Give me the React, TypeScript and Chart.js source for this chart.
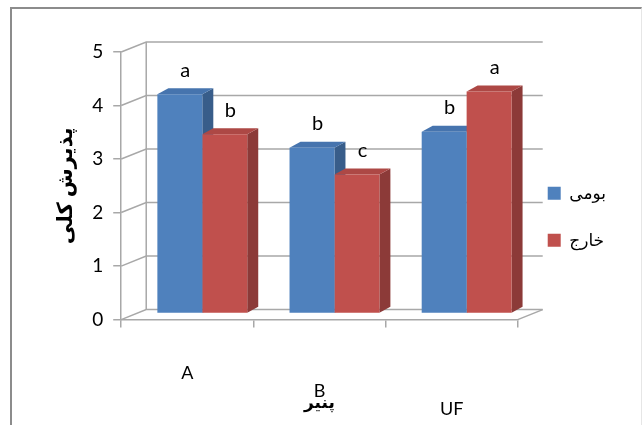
import React, { useEffect, useRef } from "react";
import { Chart, registerables } from "chart.js";

Chart.register(...registerables);

const categories = ["A", "B", "UF"];
const seriesNames = ["بومی", "خارج"];
const bumiValues = [4.1, 3.1, 3.4];
const kharejValues = [3.35, 2.6, 4.15];
const bumiLetters = ["a", "b", "b"];
const kharejLetters = ["b", "c", "a"];
const yTickValues = [0, 1, 2, 3, 4, 5];
const yTitle = "پذیرش کلی";
const xTitle = "پنیر";

const frontColors = ["#4F81BD", "#C0504D"];
const sideColors = ["#385D8A", "#8C3A38"];
const topColors = ["#4674AE", "#AD4845"];
const letters = [bumiLetters, kharejLetters];
const gridColor = "#A8A8A8";
const FONT = "Lato, 'DejaVu Sans', sans-serif";
const WDX = 25;
const WDY = -10;
const BDX = 11;
const BDY = -6;
const OX = 15;
const OY = -6;

const threeD = {
  id: "threeD",
  beforeDatasetsDraw(chart: any) {
    const { ctx, chartArea } = chart;
    const { left, right, top, bottom } = chartArea;
    const y = chart.scales.y;
    ctx.save();
    ctx.strokeStyle = gridColor;
    ctx.lineWidth = 1.5;
    y.ticks.forEach((t: any) => {
      const py = y.getPixelForValue(t.value);
      ctx.beginPath();
      ctx.moveTo(left, py);
      ctx.lineTo(left + WDX, py + WDY);
      ctx.lineTo(right + WDX, py + WDY);
      ctx.stroke();
    });
    ctx.beginPath();
    ctx.moveTo(left + WDX, bottom + WDY);
    ctx.lineTo(left + WDX, top + WDY);
    ctx.stroke();
    ctx.beginPath();
    ctx.moveTo(right, bottom);
    ctx.lineTo(right + WDX, bottom + WDY);
    ctx.stroke();
    ctx.restore();

    ctx.save();
    ctx.translate(OX, OY);
    chart.data.datasets.forEach((_ds: any, di: number) => {
      const meta = chart.getDatasetMeta(di);
      meta.data.forEach((bar: any) => {
        const p = bar.getProps(["x", "y", "base", "width"], true);
        const l = p.x - p.width / 2;
        const r = p.x + p.width / 2;
        ctx.fillStyle = sideColors[di];
        ctx.beginPath();
        ctx.moveTo(r, p.y);
        ctx.lineTo(r + BDX, p.y + BDY);
        ctx.lineTo(r + BDX, p.base + BDY);
        ctx.lineTo(r, p.base);
        ctx.closePath();
        ctx.fill();
        ctx.fillStyle = topColors[di];
        ctx.beginPath();
        ctx.moveTo(l, p.y);
        ctx.lineTo(l + BDX, p.y + BDY);
        ctx.lineTo(r + BDX, p.y + BDY);
        ctx.lineTo(r, p.y);
        ctx.closePath();
        ctx.fill();
      });
    });
  },
  afterDatasetsDraw(chart: any) {
    const { ctx } = chart;
    ctx.fillStyle = "#000";
    ctx.font = `20px ${FONT}`;
    ctx.textAlign = "center";
    ctx.textBaseline = "middle";
    chart.data.datasets.forEach((_ds: any, di: number) => {
      const meta = chart.getDatasetMeta(di);
      meta.data.forEach((bar: any, i: number) => {
        const p = bar.getProps(["x", "y"], true);
        ctx.fillText(letters[di][i], p.x + BDX / 2, p.y - 24);
      });
    });
    ctx.restore();
  },
};

export default function App() {
  const ref = useRef<HTMLCanvasElement | null>(null);
  useEffect(() => {
    if (!ref.current) return;
    const chart = new Chart(ref.current, {
      type: "bar",
      data: {
        labels: categories,
        datasets: [
          { label: seriesNames[0], data: bumiValues, backgroundColor: frontColors[0], borderWidth: 0, clip: false },
          { label: seriesNames[1], data: kharejValues, backgroundColor: frontColors[1], borderWidth: 0, clip: false },
        ],
      },
      plugins: [threeD],
      options: {
        responsive: false,
        animation: false,
        layout: { padding: { top: 43, left: 31, right: 25, bottom: 0 } },
        datasets: { bar: { categoryPercentage: 0.68, barPercentage: 1 } },
        plugins: {
          legend: {
            position: "right",
            fullSize: false,
            title: { display: true, text: "", font: { size: 10 }, padding: { top: 0, bottom: 50 } },
            labels: {
              boxWidth: 13,
              boxHeight: 13,
              padding: 30,
              color: "#000",
              font: { family: FONT, size: 17 },
            },
          },
          tooltip: { enabled: false },
        },
        scales: {
          x: {
            grid: {
              drawOnChartArea: false,
              drawTicks: true,
              tickLength: 8,
              color: gridColor,
              lineWidth: 1.5,
            },
            border: { display: true, color: gridColor, width: 1.5 },
            ticks: {
              color: "#000",
              padding: 37,
              font: { family: FONT, size: 18, lineHeight: 1.0 },
              callback: (_v: any, i: number) => [...Array(i).fill(""), categories[i]],
            },
            title: {
              display: true,
              text: xTitle,
              color: "#000",
              font: { family: FONT, size: 17, weight: "bold" },
              padding: { top: -63, bottom: 12 },
            },
          },
          y: {
            min: 0,
            max: 5,
            afterBuildTicks: (axis: any) => {
              axis.ticks = yTickValues.map((v) => ({ value: v }));
            },
            grid: {
              drawOnChartArea: false,
              drawTicks: true,
              tickLength: 8,
              color: gridColor,
              lineWidth: 1.5,
            },
            border: { display: true, color: gridColor, width: 1.5 },
            ticks: {
              color: "#000",
              padding: 10,
              font: { family: FONT, size: 19 },
            },
            title: {
              display: true,
              text: yTitle,
              color: "#000",
              font: { family: FONT, size: 21, weight: "bold" },
              padding: { top: 10, bottom: 4 },
            },
          },
        },
      },
    });
    return () => chart.destroy();
  }, []);
  return (
    <div
      style={{
        position: "absolute",
        left: 10,
        top: 7,
        width: 629,
        height: 430,
        borderTop: "2px solid #8c8c8c",
        borderLeft: "2px solid #8c8c8c",
        borderRight: "1px solid #e6e6e6",
        background: "#fff",
      }}
    >
      <canvas ref={ref} width={629} height={416} style={{ display: "block" }} />
    </div>
  );
}
